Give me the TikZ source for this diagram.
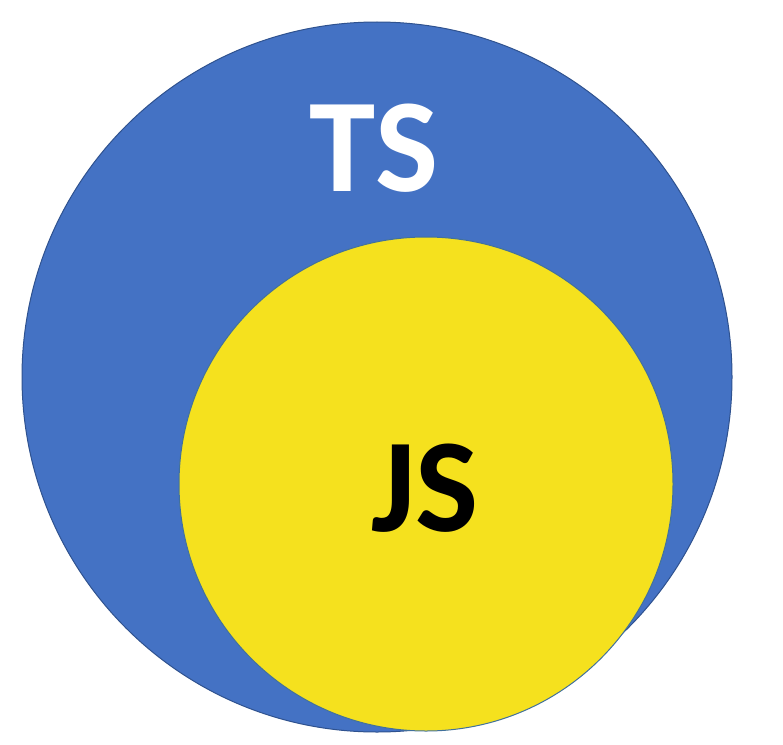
\documentclass[tikz,border=0pt]{standalone}
\usepackage{fontspec}
\setmainfont{Carlito}
\definecolor{tsblue}{HTML}{4472C4}
\definecolor{tsline}{HTML}{2F528F}
\definecolor{jsyellow}{HTML}{F5E11E}
\definecolor{jsline}{HTML}{41719C}
\begin{document}
\begin{tikzpicture}[x=1bp,y=-1bp,
  bigtext/.style={inner sep=0pt,anchor=base,font=\fontsize{134}{134}\selectfont\bfseries}]
\useasboundingbox[fill=white] (0,0) rectangle (783,745);
\fill[tsblue,draw=tsline,line width=1bp] (377,377) circle[radius=355];
\fill[jsyellow,draw=jsline,line width=1bp] (426,484) circle[radius=247];
\node[bigtext,text=white] (ts) at (374,191) {TS};
\node[bigtext,text=black] (js) at (425,531) {JS};
\end{tikzpicture}
\end{document}
